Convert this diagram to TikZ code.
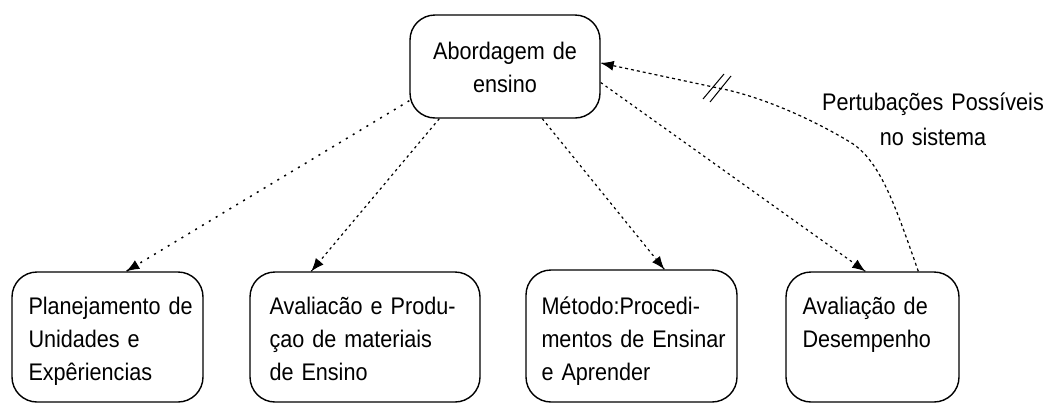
\documentclass[tikz,border=0pt]{standalone}
\usepackage{fontspec}
\setmainfont{Liberation Sans}[FakeStretch=0.9]
\usetikzlibrary{calc,arrows.meta}
\begin{document}
\begin{tikzpicture}[x=1pt,y=-1pt,
  box/.style={draw,line width=1.4pt,rounded corners=25pt,inner sep=0pt},
  txt/.style={inner sep=0pt,text width=220pt,align=left,anchor=base west,
    font=\fontsize{24}{33}\selectfont},
  conn/.style={line width=1.2pt,dash pattern=on 2.5pt off 3.5pt},
  dotconn/.style={line width=1.5pt,dash pattern=on 2pt off 6pt},
  tip/.style={solid,line width=1pt,-{Latex[length=13pt,width=10pt]}},
  slash/.style={line width=1pt}]
\useasboundingbox[fill=white] (0,0) rectangle (1055,405);

% boxes
\node[box,minimum width=190pt,minimum height=103pt] (b0) at (505,66.5) {};
\node[box,minimum width=191pt,minimum height=130pt] (b1) at (107.5,337) {};
\node[box,minimum width=230pt,minimum height=130pt] (b2) at (365,337) {};
\node[box,minimum width=211pt,minimum height=132pt] (b3) at (631.5,336) {};
\node[box,minimum width=173pt,minimum height=130pt] (b4) at (872.5,337) {};

% texts
\node[txt,text width=190pt,align=center,anchor=base] (t0) at ($(b0.north)+(0,45)$) {Abordagem de\\ensino};
\node[txt] (t1) at ($(b1.north west)+(17,43)$) {Planejamento de\\Unidades e\\Expêriencias};
\node[txt] (t2) at ($(b2.north west)+(20,43)$) {Avaliacão e Produ-\\çao de materiais\\de Ensino};
\node[txt] (t3) at ($(b3.north west)+(16,45)$) {Método:Procedi-\\mentos de Ensinar\\e Aprender};
\node[txt] (t4) at ($(b4.north west)+(17,43)$) {Avaliação de\\Desempenho};
\node[txt,text width=240pt,align=center,anchor=base,
  font=\fontsize{24}{35}\selectfont] (lab) at (933,110) {Pertubações Possíveis\\no sistema};

% connector end points
\coordinate (s1) at ($(b0.south west)+(0,-18)$);
\coordinate (e1) at ($(b1.north west)+(115,0)$);
\coordinate (s2) at ($(b0.south west)+(30,0)$);
\coordinate (e2) at ($(b2.north west)+(62,0)$);
\coordinate (s3) at ($(b0.south west)+(133,0)$);
\coordinate (e3) at ($(b3.north west)+(139,0)$);
\coordinate (s4) at ($(b0.east)+(0,16)$);
\coordinate (e4) at ($(b4.north west)+(80,0)$);
\coordinate (fb) at ($(b4.north west)+(133,0)$);
\coordinate (brk) at (718,88);
\coordinate (e5) at ($(b0.east)+(0,-3.5)$);

% connectors
\draw[dotconn] (s1) -- (e1);
\draw[tip] ($(e1)!12pt!(s1)$) -- (e1);
\draw[conn] (s2) -- (e2);
\draw[tip] ($(e2)!12pt!(s2)$) -- (e2);
\draw[conn] (s3) -- (e3);
\draw[tip] ($(e3)!12pt!(s3)$) -- (e3);
\draw[conn] (s4) -- (e4);
\draw[tip] ($(e4)!12pt!(s4)$) -- (e4);

% feedback (disturbance) path
\draw[conn,dash pattern=on 3pt off 3pt] (fb) .. controls (895,205) and (880,160) .. (850,142)
  .. controls (810,118) and (760,96) .. (brk) -- (e5);
\draw[tip] ($(e5)!12pt!(brk)$) -- (e5);
\draw[slash] ($(brk)+(-15,11)$) -- ($(brk)+(6,-14)$);
\draw[slash] ($(brk)+(-8,14)$) -- ($(brk)+(13,-12)$);
\end{tikzpicture}
\end{document}
